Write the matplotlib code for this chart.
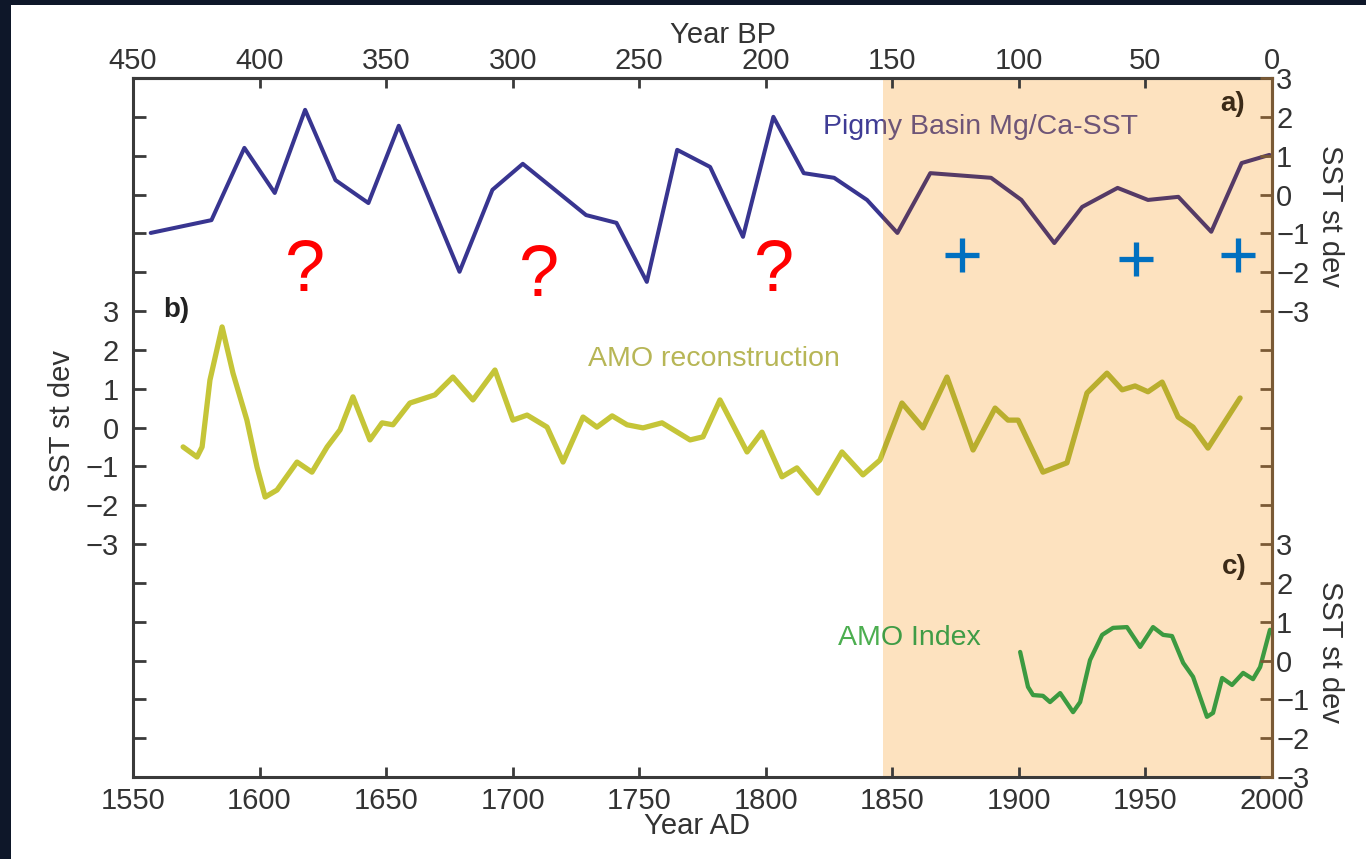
import matplotlib
matplotlib.use("Agg")
import matplotlib.pyplot as plt
from matplotlib.patches import Rectangle
from matplotlib.ticker import FuncFormatter
import numpy as np

plt.rcParams['font.family'] = ['Liberation Sans', 'DejaVu Sans']

# a) Pigmy Basin Mg/Ca-SST (st dev)
pigmy_year = [1557, 1581, 1594, 1606, 1618, 1630, 1643, 1655, 1679, 1692, 1704,
              1729, 1741, 1753, 1765, 1778, 1791, 1803, 1815, 1827, 1840, 1852,
              1865, 1889, 1901, 1914, 1925, 1939, 1951, 1963, 1976, 1988, 1999]
pigmy_sst = [-0.99, -0.66, 1.20, 0.04, 2.18, 0.37, -0.22, 1.77, -1.99, 0.12, 0.79,
             -0.53, -0.73, -2.25, 1.15, 0.71, -1.09, 2.00, 0.55, 0.43, -0.14, -0.99,
             0.55, 0.43, -0.14, -1.25, -0.32, 0.17, -0.14, -0.06, -0.96, 0.81, 1.02]

# b) AMO reconstruction
amo_rec_year = [1569.8, 1575.3, 1577.3, 1580.4, 1585.2, 1589.5, 1595.0, 1599.0, 1602.2,
                1606.9, 1614.8, 1620.7, 1626.7, 1631.8, 1636.9, 1643.6, 1648.4, 1652.7,
                1659.4, 1669.3, 1676.4, 1684.3, 1693.0, 1700.1, 1705.7, 1713.6, 1719.9,
                1727.8, 1733.3, 1739.3, 1745.2, 1751.5, 1759.0, 1770.1, 1775.2, 1781.9,
                1792.6, 1798.5, 1806.4, 1812.3, 1820.6, 1830.1, 1838.4, 1845.1, 1853.8,
                1862.1, 1871.6, 1881.9, 1890.6, 1895.7, 1899.7, 1909.5, 1919.0, 1926.9,
                1934.8, 1940.8, 1945.9, 1951.0, 1956.6, 1962.9, 1968.8, 1974.7, 1987.4]
amo_rec = [-0.50, -0.76, -0.50, 1.22, 2.59, 1.40, 0.19, -1.02, -1.79,
           -1.61, -0.89, -1.15, -0.50, -0.06, 0.79, -0.32, 0.12, 0.07,
           0.63, 0.84, 1.30, 0.71, 1.48, 0.19, 0.32, 0.01, -0.89,
           0.27, 0.01, 0.30, 0.07, -0.01, 0.12, -0.32, -0.24, 0.71,
           -0.63, -0.12, -1.27, -1.04, -1.69, -0.63, -1.22, -0.84, 0.63,
           -0.01, 1.30, -0.58, 0.50, 0.19, 0.19, -1.15, -0.91, 0.89,
           1.40, 0.97, 1.07, 0.92, 1.17, 0.27, 0.01, -0.53, 0.76]

# c) AMO index
amo_idx_year = [1900.5, 1903.6, 1905.6, 1909.5, 1912.3, 1916.3, 1921.4, 1924.2, 1928.1,
                1932.9, 1937.2, 1942.7, 1947.9, 1953.0, 1957.0, 1960.5, 1964.9, 1968.8,
                1974.3, 1976.7, 1980.3, 1984.2, 1988.6, 1992.5, 1995.3, 1999.2]
amo_idx = [0.22, -0.68, -0.89, -0.91, -1.07, -0.84, -1.33, -1.07, 0.01,
           0.66, 0.84, 0.86, 0.35, 0.86, 0.66, 0.63, -0.06, -0.42,
           -1.45, -1.35, -0.45, -0.63, -0.32, -0.48, -0.17, 0.79]

# vertical offsets of the three stacked panels
off_a, off_b, off_c = 15, 9, 3
shade_start = 1846.5

q_year = [1618.0, 1710.6, 1803.1]
q_y = [12.98, 12.85, 12.98]
plus_year = [1877.5, 1946.3, 1986.6]
plus_y = [13.44, 13.34, 13.44]

fig = plt.figure(figsize=(13.66, 8.59), dpi=100, facecolor='#0e1729')
fig.add_artist(Rectangle((11 / 1366, 0), 1, 1 - 5 / 859, transform=fig.transFigure,
                         facecolor='white', edgecolor='none', zorder=-5))
ax = fig.add_axes([133 / 1366, 1 - 777 / 859, 1139 / 1366, 699 / 859])
ax.set_xlim(1550, 2000)
ax.set_ylim(0, 18)
ax.axvspan(shade_start, 2000, color='#fde2bf', lw=0, zorder=0)


def clip_to(artist, x0, x1):
    r = Rectangle((x0, -1), x1 - x0, 20, transform=ax.transData)
    artist.set_clip_path(r)


def split_line(x, y, c_white, c_shade, lw):
    for c, (x0, x1) in ((c_white, (1550, shade_start)), (c_shade, (shade_start, 2000))):
        ln, = ax.plot(x, y, color=c, lw=lw, solid_joinstyle='round',
                      solid_capstyle='round', zorder=3)
        clip_to(ln, x0, x1)


def split_text(x, y, s, c_white, c_shade, **kw):
    for c, (x0, x1) in ((c_white, (1550, shade_start)), (c_shade, (shade_start, 2000))):
        t = ax.text(x, y, s, color=c, clip_on=True, **kw)
        clip_to(t, x0, x1)


split_line(pigmy_year, np.array(pigmy_sst) + off_a, '#383590', '#553a66', 2.9)
split_line(amo_rec_year, np.array(amo_rec) + off_b, '#c5c538', '#b9ae2e', 3.8)
split_line(amo_idx_year, np.array(amo_idx) + off_c, '#45a84a', '#3c9a40', 3.1)

split_text(1822.6, 16.74, 'Pigmy Basin Mg/Ca-SST', '#3f3c95', '#6e5577',
           fontsize=20.5, va='center', ha='left')
ax.text(1729.8, 10.77, 'AMO reconstruction', color='#b7b656', fontsize=20.5,
        va='center', ha='left')
split_text(1828.5, 3.58, 'AMO Index', '#4cae50', '#3f9c46',
           fontsize=20.5, va='center', ha='left')

ax.text(1989.4, 17.33, 'a)', color='#3b2a17', fontsize=20, fontweight='bold',
        ha='right', va='center')
ax.text(1561.9, 12.03, 'b)', color='#222222', fontsize=20, fontweight='bold',
        ha='left', va='center')
ax.text(1990, 5.41, 'c)', color='#3b2a17', fontsize=20, fontweight='bold',
        ha='right', va='center')

for xq, yq in zip(q_year, q_y):
    ax.text(xq, yq, '?', color='#ff0000', fontsize=52, ha='center', va='center', zorder=5)
ax.plot(plus_year, plus_y, '+', color='#0070c0', ms=25, mew=3.8, zorder=5)

# axes styling
spine_c = '#3a3a3a'
for s in ax.spines.values():
    s.set_linewidth(2.2)
    s.set_color(spine_c)
ax.spines['right'].set_color('#7a5a35')

ax.set_xticks(range(1550, 2001, 50))
ax.set_yticks(range(0, 19))


def fmt(v):
    return str(int(round(v))).replace('-', '\u2212')


ax.yaxis.set_major_formatter(FuncFormatter(
    lambda v, p: fmt(v - off_b) if 6 <= v <= 12 else ''))
ax.tick_params(axis='y', direction='in', length=9.5, width=2, labelsize=21, pad=10,
               color=spine_c, labelcolor='#333333')
ax.tick_params(axis='x', direction='in', length=7, width=2, labelsize=21, pad=7,
               color=spine_c, labelcolor='#333333')

ax2 = ax.twinx()
ax2.set_ylim(0, 18)
ax2.set_yticks(range(0, 19))
ax2.yaxis.set_major_formatter(FuncFormatter(
    lambda v, p: fmt(v - off_a) if v >= 12 else (fmt(v - off_c) if v <= 6 else '')))
ax2.tick_params(axis='y', direction='in', length=9, width=2, labelsize=21, pad=3,
                color='#7a5a35', labelcolor='#333333')
for k in ('left', 'top', 'bottom'):
    ax2.spines[k].set_visible(False)
ax2.spines['right'].set_color('#7a5a35')
ax2.spines['right'].set_linewidth(2.2)

top = ax.secondary_xaxis('top', functions=(lambda x: 2000 - x, lambda x: 2000 - x))
top.set_xticks(range(0, 451, 50))
top.tick_params(direction='in', length=7, width=2, labelsize=21, pad=2,
                color=spine_c, labelcolor='#333333')
top.spines['top'].set_linewidth(2.2)
top.spines['top'].set_color(spine_c)

ax.text(0.518, 1.062, 'Year BP', transform=ax.transAxes, fontsize=21,
        color='#333333', ha='center', va='center')
ax.text(0.495, -0.070, 'Year AD', transform=ax.transAxes, fontsize=21,
        color='#333333', ha='center', va='center')
ax.text(-0.0623, 0.509, 'SST st dev', transform=ax.transAxes, fontsize=21,
        color='#333333', ha='center', va='center', rotation=90)
for yy in (0.8026, 0.179):
    ax.text(1.051, yy, 'SST st dev', transform=ax.transAxes, fontsize=21,
            color='#333333', ha='center', va='center', rotation=270)

fig.savefig('out.png', dpi=100, facecolor=fig.get_facecolor())
